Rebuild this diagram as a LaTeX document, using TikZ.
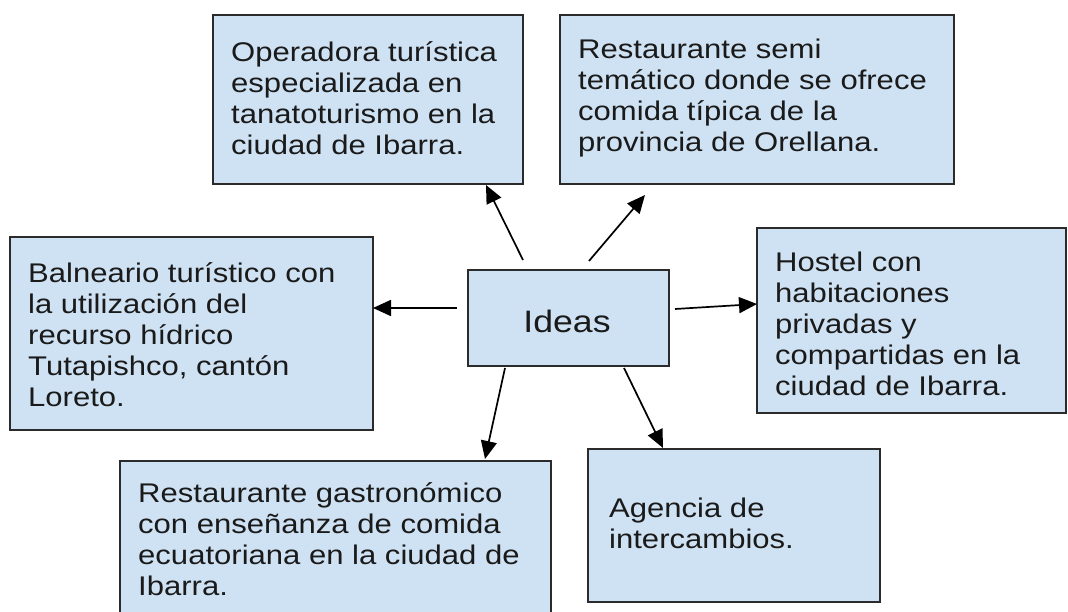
\documentclass[tikz,border=0pt]{standalone}
\usepackage{fontspec}
\setmainfont{Liberation Sans}[FakeStretch=1.15]
\usetikzlibrary{arrows.meta}
\definecolor{boxfill}{HTML}{CFE2F3}
\definecolor{boxline}{HTML}{2B2B2B}
\definecolor{txtc}{HTML}{1A1A1A}
\tikzset{
  box/.style={draw=boxline, fill=boxfill, line width=1.3pt, inner sep=0pt, outer sep=0pt, anchor=north west},
  txt/.style={anchor=north west, inner sep=0pt, align=left, text=txtc,
    font=\fontsize{27}{31}\selectfont},
  conn/.style={draw=black, line width=1.7pt, -{Triangle[length=18pt,width=16pt]}}
}
\begin{document}
\begin{tikzpicture}[x=1pt,y=-1pt]
\useasboundingbox (0,0) rectangle (1068,612);
\clip (0,0) rectangle (1068,612);
% boxes
\node[box, minimum width=310pt, minimum height=169pt] (b1) at (213,15) {};
\node[box, minimum width=394pt, minimum height=169pt] (b2) at (560,15) {};
\node[box, minimum width=363pt, minimum height=193pt] (b3) at (10,237) {};
\node[box, minimum width=201pt, minimum height=96pt] (ideas) at (468,270) {};
\node[box, minimum width=309pt, minimum height=185pt] (b4) at (757,228) {};
\node[box, minimum width=431pt, minimum height=170pt] (b5) at (120,461) {};
\node[box, minimum width=292pt, minimum height=153pt] (b6) at (588,449) {};
% texts
\node[txt] (t1) at (231,40) {\strut Operadora turística\\especializada en\\tanatoturismo en la\\ciudad de Ibarra.};
\node[txt] (t2) at (578,37) {\strut Restaurante semi\\temático donde se ofrece\\comida típica de la\\provincia de Orellana.};
\node[txt] (t3) at (28,261) {\strut Balneario turístico con\\la utilización del\\recurso hídrico\\Tutapishco, cantón\\Loreto.};
\node[txt] (t4) at (775,250) {\strut Hostel con\\habitaciones\\privadas y\\compartidas en la\\ciudad de Ibarra.};
\node[txt] (t5) at (138,481) {\strut Restaurante gastronómico\\con enseñanza de comida\\ecuatoriana en la ciudad de\\Ibarra.};
\node[txt] (t6) at (609,496) {\strut Agencia de\\intercambios.};
\node[anchor=base, inner sep=0pt, text=txtc, font=\fontsize{31}{36}\selectfont] (tideas) at (567,332) {Ideas};
% connector ends
\coordinate (s1) at (523,260); \coordinate (e1) at (486,185);
\coordinate (s2) at (589,261); \coordinate (e2) at (645,195);
\coordinate (s3) at (457,308); \coordinate (e3) at (373,308);
\coordinate (s4) at (675,309); \coordinate (e4) at (757,304);
\coordinate (s5) at (505,368); \coordinate (e5) at (485,459);
\coordinate (s6) at (624,368); \coordinate (e6) at (663,448);
\draw[conn] (s1) -- (e1);
\draw[conn] (s2) -- (e2);
\draw[conn] (s3) -- (e3);
\draw[conn] (s4) -- (e4);
\draw[conn] (s5) -- (e5);
\draw[conn] (s6) -- (e6);
\end{tikzpicture}
\end{document}
